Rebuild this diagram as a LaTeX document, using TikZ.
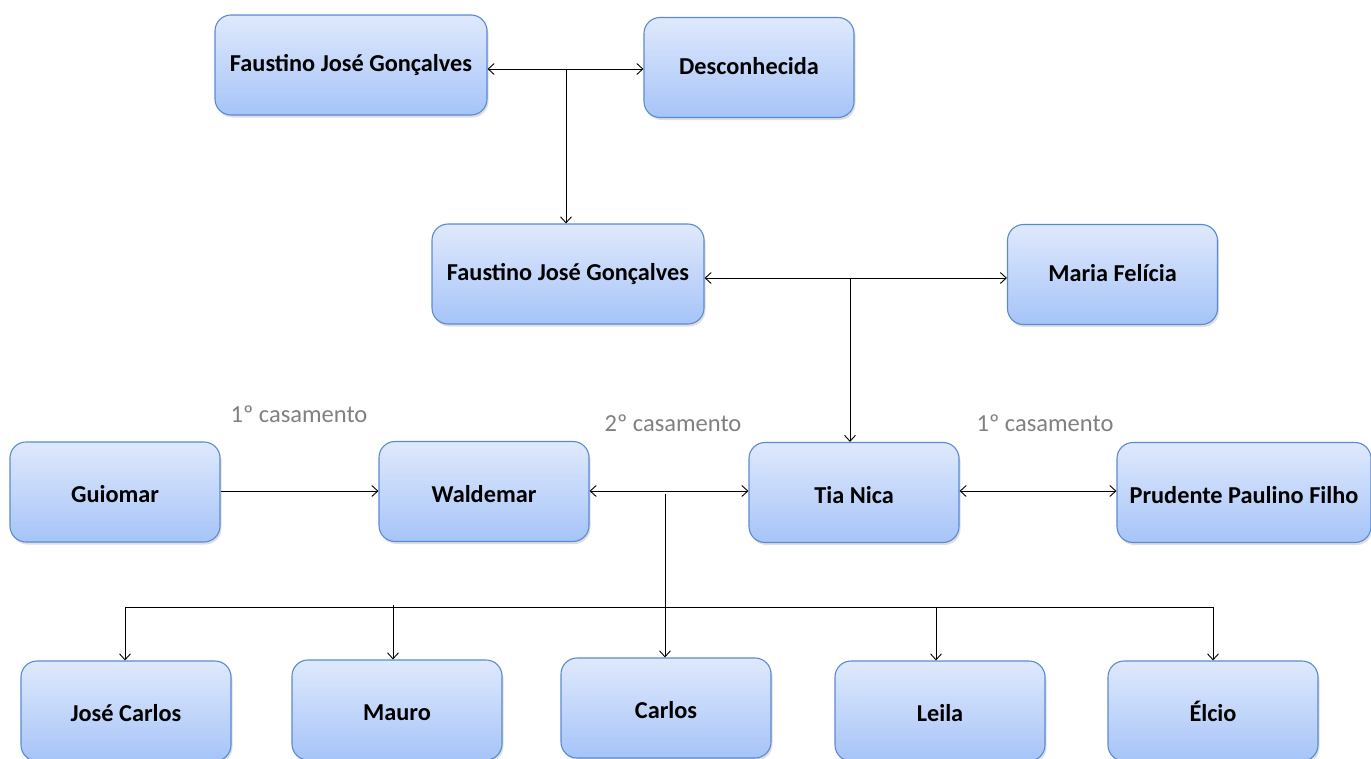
\documentclass[tikz,border=0pt]{standalone}
\usepackage{fontspec}
\setmainfont{Carlito}
\usetikzlibrary{arrows.meta,shadows}
\definecolor{boxtop}{HTML}{DFE9FC}
\definecolor{boxbot}{HTML}{A6C4F8}
\definecolor{boxline}{HTML}{5A8AD0}
\definecolor{labelgrey}{HTML}{808080}
\tikzset{
  person/.style={draw=boxline, line width=1.1pt, rounded corners=16pt,
    top color=boxtop, bottom color=boxbot, minimum width=210pt,
    minimum height=100pt, inner sep=0pt, text height=22pt, text depth=1pt,
    font=\fontsize{24.3}{28}\selectfont\bfseries,
    drop shadow={opacity=0.25, shadow xshift=1.5pt, shadow yshift=-2.5pt}},
  upper/.style={text height=14pt},
  wide/.style={minimum width=272pt},
  link/.style={line width=0.9pt, draw=black},
  note/.style={text=labelgrey, font=\fontsize{24.5}{28}\selectfont},
  >={Straight Barb[length=6pt,width=11pt]}
}
\begin{document}
\begin{tikzpicture}[x=1pt,y=-1pt]
\useasboundingbox (0,0) rectangle (1371,758);
\begin{scope}
\clip (0,0) rectangle (1371,758);
% generation 1
\node[person,upper,wide] (f1) at (351,65) {Faustino José Gonçalves};
\node[person,upper] (d) at (749,67.5) {Desconhecida};
% generation 2
\node[person,upper,wide] (f2) at (568,274) {Faustino José Gonçalves};
\node[person,upper] (mf) at (1112.5,274.5) {Maria Felícia};
% generation 3
\node[person] (g) at (115,492) {Guiomar};
\node[person] (w) at (484,491.5) {Waldemar};
\node[person] (tn) at (854,492.5) {Tia Nica};
\node[person,minimum width=254pt] (pp) at (1244,492.5) {Prudente Paulino Filho};
% children
\node[person] (jc) at (126,711) {José Carlos};
\node[person] (ma) at (397,710) {Mauro};
\node[person] (ca) at (666,708) {Carlos};
\node[person] (le) at (940,711) {Leila};
\node[person] (el) at (1213,711) {Élcio};
\end{scope}
% marriage labels
\node[note] (n1) at (299,414) {1º casamento};
\node[note] (n2) at (673,423) {2º casamento};
\node[note] (n3) at (1045,423) {1º casamento};
% junction points
\coordinate (j1) at (566,69);
\coordinate (j2) at (850,278);
\coordinate (j3) at (665,491);
\coordinate (j3b) at (665,494);
\coordinate (barL) at (125,607);
\coordinate (barR) at (1213,607);
\coordinate (mauroTop) at (393,605);
\coordinate (leTop) at (936,607);
% couples and descent
\draw[link,<->] (f1.east |- j1) -- (d.west |- j1);
\draw[link,->] (j1) -- (f2.north -| j1);
\draw[link,<->] (f2.east |- j2) -- (mf.west |- j2);
\draw[link,->] (j2) -- (tn.north -| j2);
\draw[link,->] (g.east |- j3) -- (w.west |- j3);
\draw[link,<->] (w.east |- j3) -- (tn.west |- j3);
\draw[link,<->] (tn.east |- j3) -- (pp.west |- j3);
\draw[link,->] (j3b) -- (ca.north -| j3b);
\draw[link] (barL) -- (barR);
\draw[link,->] (barL) -- (jc.north -| barL);
\draw[link,->] (mauroTop) -- (ma.north -| mauroTop);
\draw[link,->] (leTop) -- (le.north -| leTop);
\draw[link,->] (barR) -- (el.north -| barR);
\end{tikzpicture}
\end{document}
